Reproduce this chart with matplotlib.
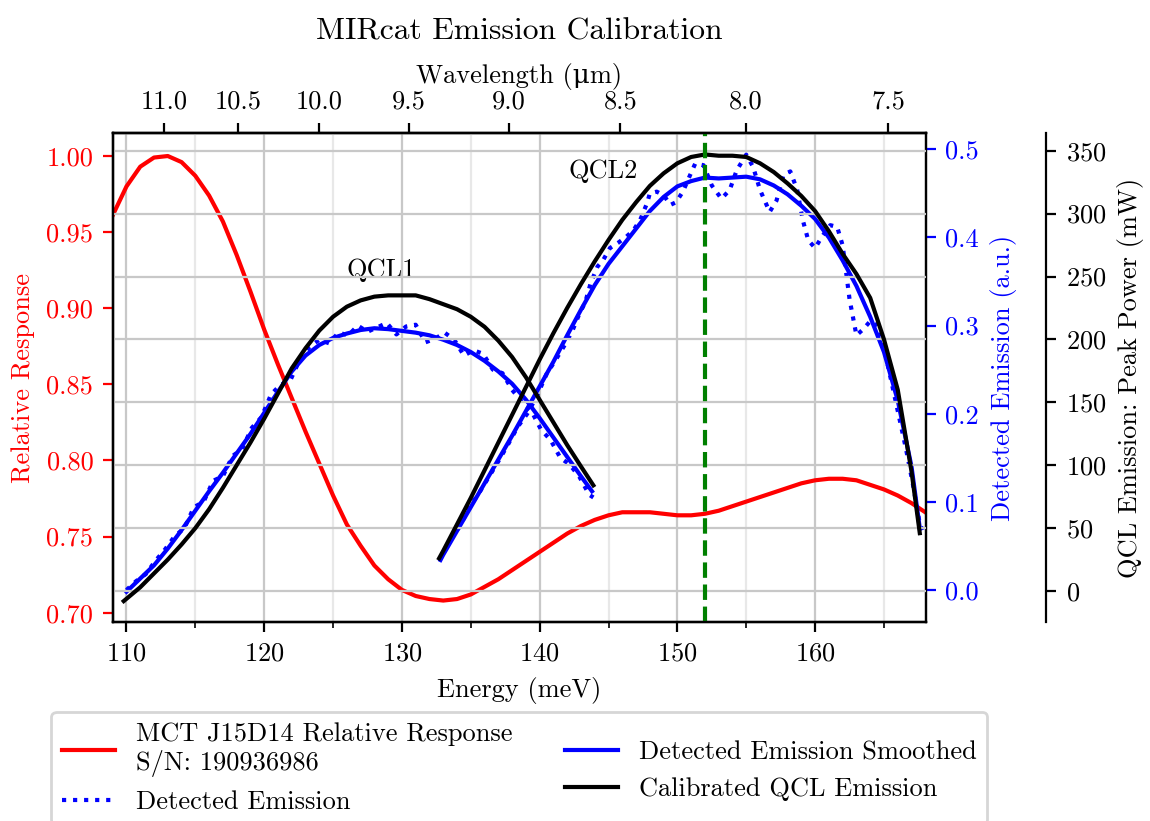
import matplotlib
matplotlib.use("Agg")
import matplotlib.pyplot as plt
from matplotlib.ticker import MultipleLocator, FormatStrFormatter

plt.rcParams['font.family'] = ['cmr10', 'DejaVu Serif']
plt.rcParams['mathtext.fontset'] = 'cm'
plt.rcParams['axes.unicode_minus'] = False
plt.rcParams['axes.formatter.use_mathtext'] = True
plt.rcParams['font.size'] = 9.5

# ---------------- data ----------------
red_E = [109, 110, 111, 112, 113, 114, 115, 116, 117, 118, 119, 120, 121, 122, 123, 124,
         125, 126, 127, 128, 129, 130, 131, 132, 133, 134, 135, 136, 137, 138, 139, 140,
         141, 142, 143, 144, 145, 146, 147, 148, 149, 150, 151, 152, 153, 154, 155, 156,
         157, 158, 159, 160, 161, 162, 163, 164, 165, 166, 167, 168]
red_resp = [0.961, 0.980, 0.993, 0.999, 1.000, 0.996, 0.987, 0.974, 0.957, 0.935, 0.911,
            0.886, 0.863, 0.841, 0.819, 0.798, 0.777, 0.758, 0.744, 0.731, 0.722, 0.715,
            0.711, 0.709, 0.708, 0.709, 0.712, 0.717, 0.722, 0.728, 0.734, 0.740, 0.746,
            0.752, 0.757, 0.761, 0.764, 0.766, 0.766, 0.766, 0.765, 0.764, 0.764, 0.765,
            0.767, 0.770, 0.773, 0.776, 0.779, 0.782, 0.785, 0.787, 0.788, 0.788, 0.787,
            0.784, 0.781, 0.777, 0.772, 0.766]

raw1_E = [110.0, 110.7, 111.4, 112.1, 112.8, 113.5, 114.2, 114.9, 115.6, 116.3, 117.0,
          117.7, 118.4, 119.1, 119.8, 120.5, 121.2, 121.9, 122.6, 123.3, 124.0, 124.7,
          125.4, 126.1, 126.8, 127.5, 128.2, 128.9, 129.6, 130.3, 131.0, 131.7, 132.4,
          133.1, 133.8, 134.5, 135.2, 135.9, 136.6, 137.3, 138.0, 138.7, 139.4, 140.1,
          140.8, 141.5, 142.2, 142.9, 143.6, 143.9]
raw1_val = [0.000, 0.010, 0.018, 0.033, 0.046, 0.061, 0.070, 0.094, 0.100, 0.124, 0.129,
            0.152, 0.160, 0.184, 0.196, 0.222, 0.233, 0.238, 0.262, 0.276, 0.284, 0.280,
            0.292, 0.289, 0.300, 0.293, 0.298, 0.303, 0.290, 0.299, 0.301, 0.281, 0.285,
            0.292, 0.284, 0.266, 0.272, 0.268, 0.250, 0.246, 0.227, 0.214, 0.203, 0.182,
            0.170, 0.150, 0.142, 0.128, 0.108, 0.105]

raw2_E = [132.8, 133.5, 134.2, 134.9, 135.6, 136.3, 137.0, 137.7, 138.4, 139.1, 139.8,
          140.5, 141.2, 141.9, 142.4, 142.9, 143.3, 143.7, 144.2, 144.6, 145.1, 145.7,
          146.3, 146.8, 147.3, 147.8, 148.0, 148.5, 149.0, 149.5, 149.9, 150.4, 150.9,
          151.3, 151.9, 152.5, 153.2, 153.8, 154.3, 155.0, 155.5, 156.0, 156.7, 157.2,
          157.7, 158.2, 158.7, 159.1, 159.5, 160.0, 160.5, 161.1, 161.6, 162.0, 162.5,
          163.0, 163.5, 164.0, 164.6, 165.1, 165.6, 166.1, 166.6, 167.1, 167.6, 167.8]
raw2_val = [0.036, 0.058, 0.072, 0.094, 0.110, 0.128, 0.146, 0.165, 0.185, 0.200, 0.220,
            0.245, 0.262, 0.280, 0.295, 0.314, 0.326, 0.348, 0.367, 0.374, 0.388, 0.394,
            0.401, 0.408, 0.420, 0.439, 0.450, 0.452, 0.448, 0.437, 0.440, 0.452, 0.470,
            0.484, 0.482, 0.459, 0.444, 0.454, 0.476, 0.494, 0.480, 0.454, 0.429, 0.442,
            0.471, 0.475, 0.454, 0.420, 0.397, 0.388, 0.401, 0.414, 0.412, 0.391, 0.330,
            0.289, 0.296, 0.305, 0.300, 0.268, 0.232, 0.196, 0.160, 0.120, 0.075, 0.068]

sm1_E = [110, 111, 112, 113, 114, 115, 116, 117, 118, 119, 120, 121, 122, 123, 124, 125,
         126, 127, 128, 129, 130, 131, 132, 133, 134, 135, 136, 137, 138, 139, 140, 141,
         142, 143, 143.8]
sm1_val = [-0.002, 0.013, 0.028, 0.047, 0.068, 0.090, 0.112, 0.133, 0.155, 0.177, 0.201,
           0.225, 0.248, 0.266, 0.278, 0.286, 0.291, 0.295, 0.297, 0.296, 0.294, 0.292,
           0.289, 0.284, 0.278, 0.270, 0.260, 0.248, 0.234, 0.216, 0.195, 0.173, 0.151,
           0.129, 0.112]

sm2_E = [132.8, 133, 134, 135, 136, 137, 138, 139, 140, 141, 142, 143, 144, 145, 146, 147,
         148, 149, 150, 151, 152, 153, 154, 155, 156, 157, 158, 159, 160, 161, 162, 163,
         164, 165, 166, 167, 167.6]
sm2_val = [0.034, 0.040, 0.067, 0.094, 0.121, 0.148, 0.175, 0.203, 0.231, 0.259, 0.289,
           0.318, 0.346, 0.370, 0.390, 0.410, 0.430, 0.446, 0.458, 0.464, 0.468, 0.467,
           0.468, 0.469, 0.466, 0.459, 0.449, 0.436, 0.421, 0.400, 0.374, 0.345, 0.310,
           0.270, 0.215, 0.140, 0.070]

cal1_E = [109.8, 111, 112, 113, 114, 115, 116, 117, 118, 119, 120, 121, 122, 123, 124, 125,
          126, 127, 128, 129, 130, 131, 132, 133, 134, 135, 136, 137, 138, 139, 140, 141,
          142, 143, 143.9]
cal1_pw = [-8, 3, 14, 25, 37, 50, 65, 82, 100, 118, 137, 157, 177, 193, 207, 218, 226, 231,
           234, 235, 235, 235, 232, 228, 224, 218, 210, 199, 186, 170, 152, 134, 116, 99, 84]

cal2_E = [132.7, 133, 134, 135, 136, 137, 138, 139, 140, 141, 142, 143, 144, 145, 146, 147,
          148, 149, 150, 151, 152, 153, 154, 155, 156, 157, 158, 159, 160, 161, 162, 163,
          164, 165, 166, 167, 167.6]
cal2_pw = [26, 32, 53, 74, 96, 118, 140, 162, 184, 205, 225, 244, 262, 279, 295, 309, 322,
           332, 340, 345, 347, 346, 346, 345, 340, 333, 324, 314, 302, 286, 268, 252, 233,
           200, 160, 95, 46]

wl_ticks = [11.0, 10.5, 10.0, 9.5, 9.0, 8.5, 8.0, 7.5]
marker_E = 152.0

# ---------------- figure ----------------
fig = plt.figure(figsize=(5.75, 4.105), dpi=200)
ax = fig.add_axes([0.098, 0.2418, 0.7072, 0.5958])
ax2 = ax.twinx()
ax3 = ax.twinx()
ax3.spines['right'].set_position(('axes', 1.148))

l_red, = ax.plot(red_E, red_resp, color='red',
                 label='MCT J15D14 Relative Response\nS/N: 190936986')
l_raw, = ax2.plot(raw1_E, raw1_val, color='blue', ls=':', label='Detected Emission')
ax2.plot(raw2_E, raw2_val, color='blue', ls=':')
l_sm, = ax2.plot(sm1_E, sm1_val, color='blue', label='Detected Emission Smoothed')
ax2.plot(sm2_E, sm2_val, color='blue')
l_cal, = ax3.plot(cal1_E, cal1_pw, color='black', label='Calibrated QCL Emission')
ax3.plot(cal2_E, cal2_pw, color='black')
ax3.axvline(marker_E, color='green', ls='--', lw=1.5)

ax.set_xlim(109.0, 168.05)
ax.set_ylim(0.6936, 1.0149)
ax2.set_ylim(-0.0369, 0.5182)
ax3.set_ylim(-25.0, 363.8)

ax.xaxis.set_major_locator(MultipleLocator(10))
ax.xaxis.set_minor_locator(MultipleLocator(5))
ax.yaxis.set_major_locator(MultipleLocator(0.05))
ax.yaxis.set_major_formatter(FormatStrFormatter('%.2f'))
ax2.yaxis.set_major_locator(MultipleLocator(0.1))
ax2.yaxis.set_major_formatter(FormatStrFormatter('%.1f'))
ax3.yaxis.set_major_locator(MultipleLocator(50))

ax.grid(which='major', axis='x', color='#c8c8c8', lw=0.8)
ax.grid(which='minor', axis='x', color='#e8e8e8', lw=0.8)
ax3.grid(which='major', axis='y', color='#c8c8c8', lw=0.8)
ax3.set_zorder(ax2.get_zorder() + 1)

ax.tick_params(axis='y', colors='red')
ax2.tick_params(axis='y', colors='blue')
ax.set_ylabel('Relative Response', color='red')
ax2.set_ylabel('Detected Emission (a.u.)', color='blue')
ax3.set_ylabel('QCL Emission: Peak Power (mW)')
ax.set_xlabel('Energy (meV)')

sec = ax.secondary_xaxis('top', functions=(lambda e: 1239.84 / e, lambda w: 1239.84 / w))
sec.set_xticks(wl_ticks)
sec.xaxis.set_major_formatter(FormatStrFormatter('%.1f'))
sec.xaxis.set_minor_locator(plt.NullLocator())
sec.set_xlabel('Wavelength (μm)', labelpad=2.5)

ax.set_title('MIRcat Emission Calibration', pad=8.4)

ax.text(128.5, 0.925, 'QCL1', ha='center', va='center')
ax.text(144.6, 0.990, 'QCL2', ha='center', va='center')

ax.legend(handles=[l_red, l_raw, l_sm, l_cal], loc='upper center',
          bbox_to_anchor=(0.5, -0.156), ncol=2)

fig.savefig('out.png', dpi=200)
